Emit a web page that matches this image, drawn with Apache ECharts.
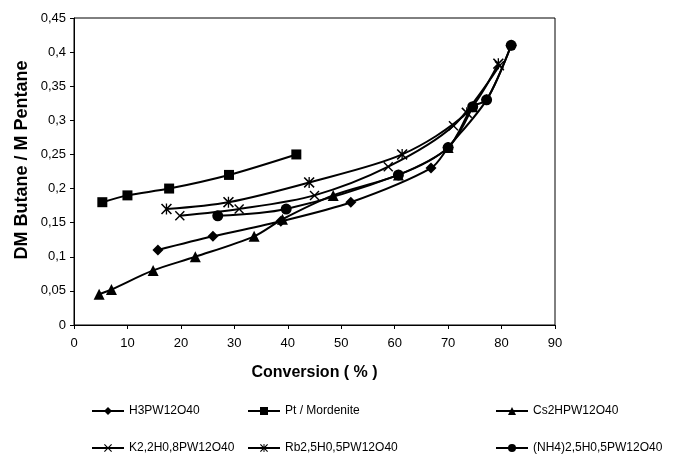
<!DOCTYPE html>
<html>
<head>
<meta charset="utf-8">
<script src="https://cdn.jsdelivr.net/npm/echarts@6/dist/echarts.min.js"></script>
<style>
  html, body { margin: 0; padding: 0; background: #fff; }
  #main { width: 684px; height: 458px; }
</style>
</head>
<body>
<div id="main"></div>
<script>
// series names
var names = ['H3PW12O40', 'Pt / Mordenite', 'Cs2HPW12O40',
             'K2,2H0,8PW12O40', 'Rb2,5H0,5PW12O40', '(NH4)2,5H0,5PW12O40'];

// [conversion %, DM butane / M pentane]
var h3pw = [[15.7, 0.11], [26, 0.13], [38.7, 0.152], [51.8, 0.18], [66.8, 0.23], [70, 0.26], [77.2, 0.33], [81.8, 0.41]];
var ptMord = [[5.3, 0.18], [10, 0.19], [17.8, 0.2], [29, 0.22], [41.6, 0.25]];
var cs2h = [[4.7, 0.045], [7, 0.052], [14.8, 0.08], [22.7, 0.1], [33.7, 0.13], [39, 0.155], [48.5, 0.19], [60.7, 0.22], [70, 0.26], [74.6, 0.32]];
var k22 = [[19.8, 0.16], [30.9, 0.17], [45, 0.19], [58.8, 0.232], [71, 0.292], [79.6, 0.38]];
var rb25 = [[17.3, 0.17], [28.9, 0.18], [44, 0.209], [61.4, 0.25], [73.5, 0.311], [79.4, 0.383]];
var nh4 = [[26.9, 0.16], [39.7, 0.17], [60.7, 0.22], [70, 0.26], [74.6, 0.32], [77.2, 0.33], [81.8, 0.41]];

var xTicks = { min: 0, max: 90, interval: 10 };
var yTicks = { min: 0, max: 0.45, interval: 0.05 };

var crossPath = 'path://M0,1 L1,0 L5,4 L9,0 L10,1 L6,5 L10,9 L9,10 L5,6 L1,10 L0,9 L4,5 Z';
var starPath = 'path://M0,1 L1,0 L5,4 L9,0 L10,1 L6,5 L10,9 L9,10 L5,6 L1,10 L0,9 L4,5 Z M4.4,0 L5.6,0 L5.6,10 L4.4,10 Z';

function mkSeries(name, data, symbol, size) {
    return {
        name: name,
        type: 'line',
        data: data,
        smooth: 0.3,
        symbol: symbol,
        symbolSize: size,
        lineStyle: { color: '#000', width: 2 },
        itemStyle: { color: '#000' },
        z: 2
    };
}

var chart = echarts.init(document.getElementById('main'));
var legendText = { fontFamily: 'Liberation Sans', fontSize: 12, color: '#000' };
// one legend per entry, laid out as 3 columns x 2 rows
var legendCols = [86, 242, 490];
var legendRows = [400, 437];
var legends = [];
for (var i = 0; i < names.length; i++) {
    legends.push({
        data: [names[i]],
        left: legendCols[i % 3],
        top: legendRows[Math.floor(i / 3)],
        itemWidth: 32, itemHeight: 10,
        textStyle: legendText
    });
}

var option = {
    animation: false,
    backgroundColor: '#fff',
    textStyle: { fontFamily: 'Liberation Sans' },
    grid: { left: 74, right: 129, top: 18, bottom: 133, show: true, borderColor: '#000', borderWidth: 1 },
    legend: legends,
    graphic: [{
        type: 'text',
        x: 22, y: 160,
        rotation: Math.PI / 2,
        style: {
            text: 'DM Butane / M Pentane',
            fontFamily: 'Liberation Sans', fontSize: 18, fontWeight: 'bold', fill: '#000',
            align: 'center', verticalAlign: 'middle'
        }
    }],
    xAxis: {
        type: 'value',
        min: xTicks.min, max: xTicks.max, interval: xTicks.interval,
        name: 'Conversion ( % )',
        nameLocation: 'middle',
        nameGap: 40,
        nameTextStyle: { fontSize: 16, fontWeight: 'bold', color: '#000' },
        axisLine: { lineStyle: { color: '#000' } },
        axisTick: { lineStyle: { color: '#000' }, length: 4 },
        axisLabel: { color: '#000', fontSize: 13, margin: 12 },
        splitLine: { show: false }
    },
    yAxis: {
        type: 'value',
        min: yTicks.min, max: yTicks.max, interval: yTicks.interval,
        axisLine: { lineStyle: { color: '#000' } },
        axisTick: { lineStyle: { color: '#000' }, length: 4 },
        axisLabel: {
            color: '#000', fontSize: 13, margin: 8,
            formatter: function (v) { return String(+v.toFixed(2)).replace('.', ','); }
        },
        splitLine: { show: false }
    },
    series: [
        mkSeries(names[2], cs2h, 'triangle', 11),
        mkSeries(names[0], h3pw, 'diamond', 11),
        mkSeries(names[1], ptMord, 'rect', 10),
        mkSeries(names[3], k22, crossPath, 10),
        mkSeries(names[4], rb25, starPath, 11),
        mkSeries(names[5], nh4, 'circle', 11)
    ]
};
chart.setOption(option);
</script>
</body>
</html>
